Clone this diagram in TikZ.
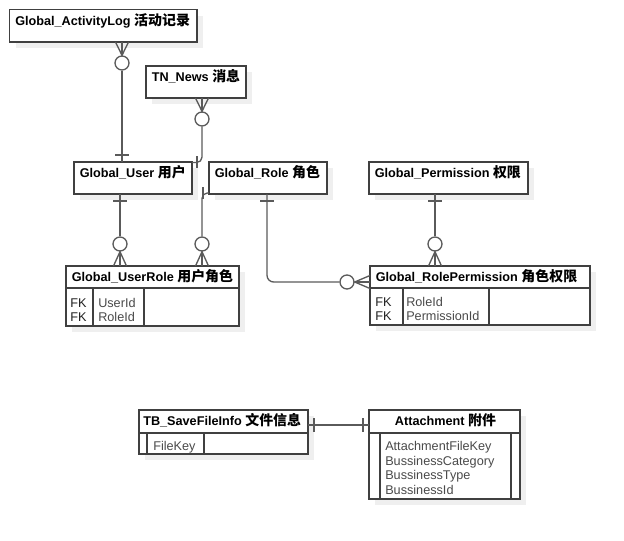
\documentclass[tikz,border=0pt]{standalone}
\usepackage{fontspec}
\setmainfont{Liberation Sans}
\newfontfamily\cjk[Scale=1.1]{Noto Sans CJK SC}
\usetikzlibrary{fit,shadows,calc}
\definecolor{boxc}{HTML}{404040}
\definecolor{relc}{HTML}{5A5A5A}
\definecolor{shadowc}{HTML}{EFEFEF}
\definecolor{attrc}{HTML}{4A4A4A}
\definecolor{fkc}{HTML}{202020}
\tikzset{
  ent/.style={draw=boxc, line width=1.3pt, fill=white, inner sep=0pt, outer sep=0pt,
    general shadow={fill=shadowc, shadow xshift=4.5pt, shadow yshift=-4.5pt}},
  entline/.style={draw=boxc, line width=1.3pt},
  ttl/.style={anchor=base west, inner sep=0pt, font=\bfseries\fontsize{9.5}{11}\selectfont},
  attr/.style={anchor=base west, inner sep=0pt, font=\fontsize{9.5}{10.6}\selectfont, text=attrc},
  fk/.style={anchor=base west, inner sep=0pt, font=\fontsize{9.5}{10.6}\selectfont, text=fkc},
  rel/.style={draw=relc, line width=1pt},
  crc/.style={circle, draw=relc, fill=white, line width=1pt, minimum size=10.5pt, inner sep=0pt}
}
\begin{document}
\begin{tikzpicture}[x=0.75pt, y=-0.75pt]
\useasboundingbox (0,0) rectangle (624,540);

% ---------- entities ----------
\node[ent, fit={(9.5,9.5) (197,42)}] (act) {};
\node[ttl] (tact) at ($(act.north west)+(5.5,15.5)$) {Global\_ActivityLog {\cjk 活动记录}};

\node[ent, fit={(146,66) (246,98)}] (news) {};
\node[ttl] (tnews) at ($(news.north west)+(5.5,15.5)$) {TN\_News {\cjk 消息}};

\node[ent, fit={(74,162) (192,194)}] (user) {};
\node[ttl] (tuser) at ($(user.north west)+(5.5,15.5)$) {Global\_User {\cjk 用户}};

\node[ent, fit={(209,162) (327,194)}] (role) {};
\node[ttl] (trole) at ($(role.north west)+(5.5,15.5)$) {Global\_Role {\cjk 角色}};

\node[ent, fit={(369,162) (528,194)}] (perm) {};
\node[ttl] (tperm) at ($(perm.north west)+(5.5,15.5)$) {Global\_Permission {\cjk 权限}};

\node[ent, fit={(66,266) (239,326)}] (ur) {};
\node[ttl] (tur) at ($(ur.north west)+(5.5,15)$) {Global\_UserRole {\cjk 用户角色}};
\draw[entline] ($(ur.north west)+(0,22)$) -- ($(ur.north east)+(0,22)$);
\draw[entline] ($(ur.north west)+(27,22)$) -- ($(ur.south west)+(27,0)$);
\draw[entline] ($(ur.north west)+(78,22)$) -- ($(ur.south west)+(78,0)$);
\node[fk] (urfk1) at ($(ur.north west)+(4,41)$) {FK};
\node[fk] (urfk2) at ($(ur.north west)+(4,55.5)$) {FK};
\node[attr] (urat1) at ($(ur.north west)+(32,41)$) {UserId};
\node[attr] (urat2) at ($(ur.north west)+(32,55.5)$) {RoleId};

\node[ent, fit={(370,266) (590,325)}] (rp) {};
\node[ttl] (trp) at ($(rp.north west)+(5.5,15)$) {Global\_RolePermission {\cjk 角色权限}};
\draw[entline] ($(rp.north west)+(0,22)$) -- ($(rp.north east)+(0,22)$);
\draw[entline] ($(rp.north west)+(33,22)$) -- ($(rp.south west)+(33,0)$);
\draw[entline] ($(rp.north west)+(119,22)$) -- ($(rp.south west)+(119,0)$);
\node[fk] (rpfk1) at ($(rp.north west)+(5,40)$) {FK};
\node[fk] (rpfk2) at ($(rp.north west)+(5,54.5)$) {FK};
\node[attr] (rpat1) at ($(rp.north west)+(36,40)$) {RoleId};
\node[attr] (rpat2) at ($(rp.north west)+(36,54.5)$) {PermissionId};

\node[ent, fit={(139,410) (308,454)}] (save) {};
\node[ttl] (tsave) at ($(save.north west)+(4,15)$) {TB\_SaveFileInfo {\cjk 文件信息}};
\draw[entline] ($(save.north west)+(0,23)$) -- ($(save.north east)+(0,23)$);
\draw[entline] ($(save.north west)+(8,23)$) -- ($(save.south west)+(8,0)$);
\draw[entline] ($(save.north west)+(65,23)$) -- ($(save.south west)+(65,0)$);
\node[attr] (saveat) at ($(save.north west)+(14,40)$) {FileKey};

\node[ent, fit={(369,410) (520,499)}] (att) {};
\node[anchor=base, inner sep=0pt, font=\bfseries\fontsize{9.5}{11}\selectfont] (tatt) at ($(att.north)+(1,15)$) {Attachment {\cjk 附件}};
\draw[entline] ($(att.north west)+(0,23)$) -- ($(att.north east)+(0,23)$);
\draw[entline] ($(att.north west)+(11,23)$) -- ($(att.south west)+(11,0)$);
\draw[entline] ($(att.north east)+(-9,23)$) -- ($(att.south east)+(-9,0)$);
\node[attr] (attat1) at ($(att.north west)+(16,40.5)$) {AttachmentFileKey};
\node[attr] (attat2) at ($(att.north west)+(16,55)$) {BussinessCategory};
\node[attr] (attat3) at ($(att.north west)+(16,69.5)$) {BussinessType};
\node[attr] (attat4) at ($(att.north west)+(16,84)$) {BussinessId};

% ---------- relationships ----------
% ActivityLog -- User
\node[crc] (c1) at (122,63) {};
\draw[rel] (c1.north) -- (c1.north |- act.south);
\draw[rel] ($(c1.north |- act.south)+(-6.5,0)$) -- (c1.north) -- ($(c1.north |- act.south)+(6.5,0)$);
\draw[rel] (c1.south) -- (c1.south |- user.north);
\draw[rel] ($(c1 |- user.north)+(-7,-7)$) -- ++(14,0);

% News -- User
\node[crc] (c2) at (202,119) {};
\draw[rel] (c2.north) -- (c2.north |- news.south);
\draw[rel] ($(c2.north |- news.south)+(-6.5,0)$) -- (c2.north) -- ($(c2.north |- news.south)+(6.5,0)$);
\draw[rel, rounded corners=4pt] (c2.south) |- ($(user.north east)+(0,0.5)$);
\draw[rel] ($(user.north east)+(5,-6)$) -- ++(0,12);

% Role -- UserRole
\node[crc] (c3) at (202,244) {};
\draw[rel, rounded corners=4pt] ($(role.south west)+(0,-1)$) -| (c3.north);
\draw[rel] ($(role.south west)+(-6,-7)$) -- ++(0,12);
\draw[rel] (c3.south) -- (c3.south |- ur.north);
\draw[rel] ($(c3.south |- ur.north)+(-6.5,0)$) -- (c3.south) -- ($(c3.south |- ur.north)+(6.5,0)$);

% User -- UserRole
\node[crc] (c4) at (120,244) {};
\draw[rel] (c4 |- user.south) -- (c4.north);
\draw[rel] ($(c4 |- user.south)+(-7,7)$) -- ++(14,0);
\draw[rel] (c4.south) -- (c4.south |- ur.north);
\draw[rel] ($(c4.south |- ur.north)+(-6.5,0)$) -- (c4.south) -- ($(c4.south |- ur.north)+(6.5,0)$);

% Role -- RolePermission
\node[crc] (c5) at (347,282) {};
\draw[rel, rounded corners=5pt] ($(role.south)+(-1,0)$) |- (c5.west);
\draw[rel] ($(role.south)+(-8,7)$) -- ++(14,0);
\draw[rel] (c5.east) -- (c5.east -| rp.west);
\draw[rel] ($(c5.east -| rp.west)+(0,-6.5)$) -- (c5.east) -- ($(c5.east -| rp.west)+(0,6.5)$);

% Permission -- RolePermission
\node[crc] (c6) at (435,244) {};
\draw[rel] (c6 |- perm.south) -- (c6.north);
\draw[rel] ($(c6 |- perm.south)+(-7,7)$) -- ++(14,0);
\draw[rel] (c6.south) -- (c6.south |- rp.north);
\draw[rel] ($(c6.south |- rp.north)+(-6.5,0)$) -- (c6.south) -- ($(c6.south |- rp.north)+(6.5,0)$);

% SaveFileInfo -- Attachment
\draw[rel] ($(save.north east)+(0,15)$) -- ($(att.north west)+(0,15)$);
\draw[rel] ($(save.north east)+(6,8)$) -- ++(0,14);
\draw[rel] ($(att.north west)+(-6,8)$) -- ++(0,14);
\end{tikzpicture}
\end{document}
